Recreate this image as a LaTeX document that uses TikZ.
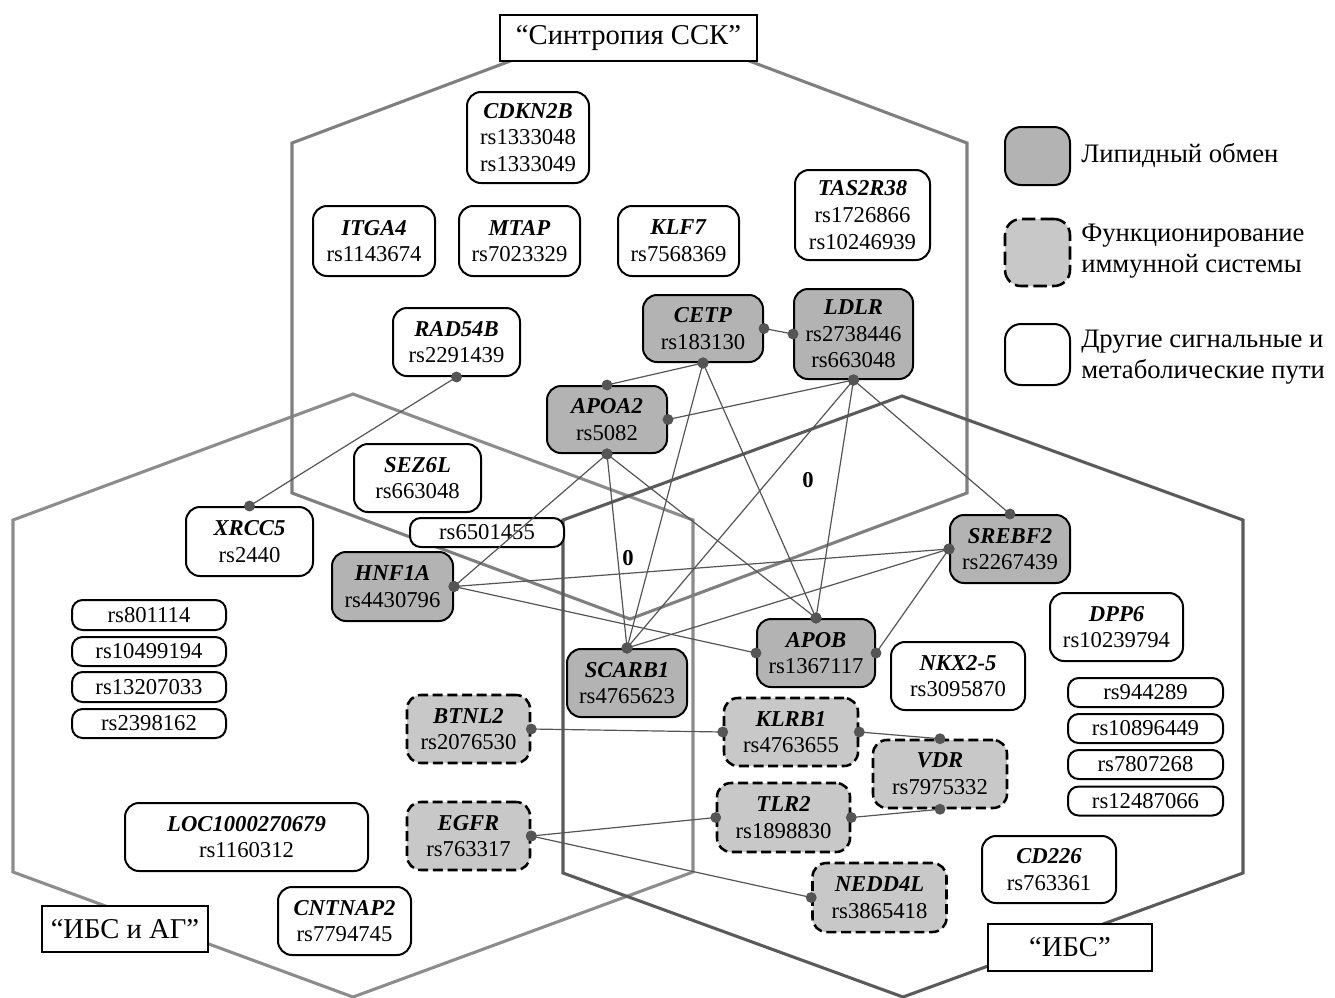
\documentclass[tikz,border=0pt]{standalone}
\usepackage{fontspec}
\setmainfont{Liberation Serif}
\newcommand\gfont{\fontsize{17}{20}\selectfont}
\newcommand\lfont{\fontsize{21.5}{22.5}\selectfont}
\newcommand\legfont{\fontsize{20}{23}\selectfont}
\newcommand\gn[1]{\textbf{\textit{#1}}}
\definecolor{lipidgray}{HTML}{B3B3B3}
\definecolor{immgray}{HTML}{C8C8C8}
\definecolor{conncol}{HTML}{555555}
\definecolor{hextop}{HTML}{7F7F7F}
\definecolor{hexleft}{HTML}{8C8C8C}
\definecolor{hexright}{HTML}{5A5A5A}
\tikzset{
  sz/.style 2 args={minimum width=#1*0.75pt, minimum height=#2*0.75pt},
  genebox/.style={draw=black, line width=1.5pt, rounded corners=10.5pt, fill=white, align=center, inner sep=0pt, font=\gfont},
  lipid/.style={genebox, fill=lipidgray},
  immune/.style={genebox, fill=immgray, line width=1.9pt, dash pattern=on 7.5pt off 3.5pt},
  grouplabel/.style={draw=black, line width=1.5pt, fill=white, inner sep=0pt, font=\lfont},
  conn/.style={draw=conncol, line width=0.9pt},
  hexline/.style={line width=2.3pt, line join=miter},
  legtext/.style={anchor=west, align=left, inner sep=0pt, font=\legfont},
  zerolab/.style={inner sep=0pt, font=\gfont\bfseries}
}
\newcommand\lnk[2]{\draw[conn] (#1) -- (#2); \fill[conncol] (#1) circle (4.1pt) (#2) circle (4.1pt);}
\begin{document}
\begin{tikzpicture}[x=0.75pt,y=-0.75pt]
\useasboundingbox (0,0) rectangle (1335,997);
% hexagons
\draw[hexline, draw=hexleft] (13,520) -- (353,394) -- (693,520) -- (693,872) -- (353,997) -- (13,872) -- cycle;
\draw[hexline, draw=hextop] (292,143) -- (630,16) -- (967,143) -- (967,493) -- (630,619) -- (292,493) -- cycle;
\draw[hexline, draw=hexright] (563,520) -- (902,396) -- (1243,520) -- (1243,873) -- (903,997) -- (563,873) -- cycle;
% group labels
\node[grouplabel, sz={257}{46}] (gsyn) at (628.5,38) {“Синтропия ССК”};
\node[grouplabel, sz={166}{46}] (gag) at (125,929) {“ИБС и АГ”};
\node[grouplabel, sz={164}{47}] (gibs) at (1070,947.5) {“ИБС”};
% gene nodes
\node[genebox, sz={122}{91}] (cdkn) at (528,137.5) {\gn{CDKN2B}\\rs1333048\\rs1333049};
\node[genebox, sz={122}{70}] (itga) at (374,241) {\gn{ITGA4}\\rs1143674};
\node[genebox, sz={121}{70}] (mtap) at (519.5,241) {\gn{MTAP}\\rs7023329};
\node[genebox, sz={121}{70}] (klf) at (678.5,241) {\gn{KLF7}\\rs7568369};
\node[genebox, sz={135}{90}] (tas) at (862.5,215) {\gn{TAS2R38}\\rs1726866\\rs10246939};
\node[lipid, sz={120}{67}] (cetp) at (703,328.5) {\gn{CETP}\\rs183130};
\node[lipid, sz={119}{90}] (ldlr) at (853.5,334) {\gn{LDLR}\\rs2738446\\rs663048};
\node[genebox, sz={127}{68}] (rad) at (456.5,342) {\gn{RAD54B}\\rs2291439};
\node[lipid, sz={120}{67}] (apoa) at (607,419.5) {\gn{APOA2}\\rs5082};
\node[genebox, sz={127}{68}] (sez) at (417.5,478) {\gn{SEZ6L}\\rs663048};
\node[genebox, sz={154}{29}, rounded corners=8pt] (rs65) at (487,532.5) {rs6501455};
\node[genebox, sz={127}{69}] (xrcc) at (249.5,541.5) {\gn{XRCC5}\\rs2440};
\node[lipid, sz={121}{69}] (hnf) at (392.5,586.5) {\gn{HNF1A}\\rs4430796};
\node[lipid, sz={120}{68}] (sreb) at (1010,549) {\gn{SREBF2}\\rs2267439};
\node[lipid, sz={120}{68}] (scarb) at (627,683) {\gn{SCARB1}\\rs4765623};
\node[lipid, sz={118}{68}] (apob) at (816,653) {\gn{APOB}\\rs1367117};
\node[genebox, sz={134}{68}] (nkx) at (958,676) {\gn{NKX2-5}\\rs3095870};
\node[genebox, sz={133}{68}] (dpp) at (1116.5,627) {\gn{DPP6}\\rs10239794};
\node[genebox, sz={155}{29}, rounded corners=8pt] (r944) at (1145.5,692.5) {rs944289};
\node[genebox, sz={155}{29}, rounded corners=8pt] (r108) at (1145.5,728.5) {rs10896449};
\node[genebox, sz={155}{29}, rounded corners=8pt] (r780) at (1145.5,764.5) {rs7807268};
\node[genebox, sz={155}{29}, rounded corners=8pt] (r124) at (1145.5,801) {rs12487066};
\node[genebox, sz={154}{30}, rounded corners=8pt] (r801) at (149,615) {rs801114};
\node[genebox, sz={154}{29}, rounded corners=8pt] (r104) at (149,651.5) {rs10499194};
\node[genebox, sz={154}{30}, rounded corners=8pt] (r132) at (149,687) {rs13207033};
\node[genebox, sz={154}{29}, rounded corners=8pt] (r239) at (149,723.5) {rs2398162};
\node[immune, sz={123}{68}] (btnl) at (468.5,729) {\gn{BTNL2}\\rs2076530};
\node[immune, sz={134}{68}] (klrb) at (791,732) {\gn{KLRB1}\\rs4763655};
\node[immune, sz={134}{68}] (vdr) at (940,774) {\gn{VDR}\\rs7975332};
\node[immune, sz={123}{68}] (egfr) at (468.5,836) {\gn{EGFR}\\rs763317};
\node[immune, sz={133}{69}] (tlr) at (783.5,817.5) {\gn{TLR2}\\rs1898830};
\node[immune, sz={134}{69}] (nedd) at (879.5,897.5) {\gn{NEDD4L}\\rs3865418};
\node[genebox, sz={243}{68}] (loc) at (246.5,837) {\gn{LOC1000270679}\\rs1160312};
\node[genebox, sz={133}{68}] (cntn) at (344.5,921) {\gn{CNTNAP2}\\rs7794745};
\node[genebox, sz={134}{67}] (cd) at (1049,869.5) {\gn{CD226}\\rs763361};
% zero labels
\node[zerolab] (z1) at (628,558) {0};
\node[zerolab] (z2) at (808,480) {0};
% legend
\node[lipid, sz={65}{58}, rounded corners=12pt] (leg1) at (1037.5,156) {};
\node[immune, sz={65}{67}, rounded corners=12pt, dash pattern=on 10pt off 4pt] (leg2) at (1037.5,252.5) {};
\node[genebox, sz={65}{61}, rounded corners=12pt] (leg3) at (1037.5,354.5) {};
\node[legtext] (lt1) at (1081,156) {Липидный обмен};
\node[legtext] (lt2) at (1081,251) {Функционирование\\иммунной системы};
\node[legtext] (lt3) at (1081,357) {Другие сигнальные и\\метаболические пути};
% connectors
\lnk{rad.south}{xrcc.north}
\lnk{cetp.east}{ldlr.west}
\lnk{cetp.south}{apoa.north}
\lnk{cetp.south}{scarb.north}
\lnk{cetp.south}{apob.north}
\lnk{ldlr.south}{apoa.east}
\lnk{ldlr.south}{scarb.north}
\lnk{ldlr.south}{apob.north}
\lnk{ldlr.south}{sreb.north}
\lnk{apoa.south}{hnf.east}
\lnk{apoa.south}{scarb.north}
\lnk{apoa.south}{apob.north}
\lnk{hnf.east}{sreb.west}
\lnk{hnf.east}{apob.west}
\lnk{scarb.north}{sreb.west}
\lnk{apob.east}{sreb.west}
\lnk{btnl.east}{klrb.west}
\lnk{klrb.east}{vdr.north}
\lnk{egfr.east}{tlr.west}
\lnk{egfr.east}{nedd.west}
\lnk{tlr.east}{vdr.south}
\end{tikzpicture}
\end{document}
